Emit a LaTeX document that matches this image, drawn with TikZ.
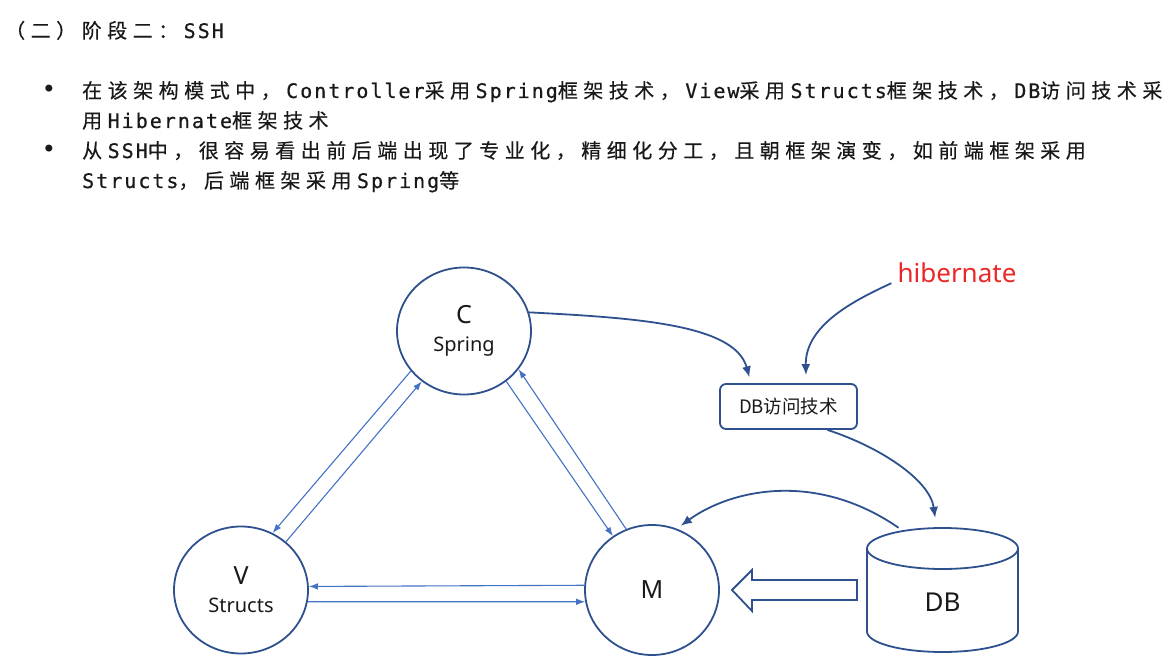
\documentclass[tikz,border=0pt]{standalone}
\usepackage{fontspec}
\usetikzlibrary{shapes.geometric,arrows.meta,calc}
\newfontfamily\cjkfont[FakeBold=0.3]{Noto Sans CJK SC}
\newfontfamily\monofont[LetterSpace=10,FakeBold=0.6]{DejaVu Sans Mono}
\newfontfamily\dgmfont{Noto Sans}
\newfontfamily\dgmcjk{Noto Sans CJK SC}
\newfontfamily\bulletfont{DejaVu Sans}
\newlength\zhgap
\setlength\zhgap{5.5pt}
\def\zhloop#1{\ifx\relax#1\else#1\hspace{\zhgap}\expandafter\zhloop\fi}
\newcommand\zhtxt[1]{{\cjkfont\zhloop#1\relax}}
\newcommand\entxt[1]{{\monofont #1}}
\definecolor{dnavy}{RGB}{47,80,143}
\definecolor{lblue}{RGB}{68,114,196}
\definecolor{hred}{RGB}{235,40,40}
\definecolor{txt}{RGB}{25,25,25}
\begin{document}
\begin{tikzpicture}[x=1pt,y=-1pt,
  bubble/.style={ellipse, draw=dnavy, line width=1.8pt, minimum width=134pt, minimum height=127pt, inner sep=0pt, align=center, font=\dgmfont\fontsize{20}{28}\selectfont, text=txt},
  thinarr/.style={draw=lblue, line width=1.1pt, -{Latex[length=9pt,width=6.5pt]}},
  curvarr/.style={draw=dnavy, line width=1.8pt, -{Latex[length=11pt,width=9pt]}},
  linetxt/.style={anchor=base west, inner sep=0pt, font=\fontsize{20}{30}\selectfont, text=txt},
  bul/.style={anchor=base, inner sep=0pt, font=\bulletfont\fontsize{24}{28}\selectfont, text=txt},
  shapeline/.style={draw=dnavy, line width=1.8pt, fill=white}
]
\useasboundingbox[fill=white] (0,0) rectangle (1173,668);

% ---- text ----
\node[linetxt] (head) at (5,38) {\zhtxt{（二）阶段二：}\entxt{SSH}};
\node[bul] (b1) at (49,98) {•};
\node[linetxt] (l1) at (82,98) {\zhtxt{在该架构模式中，}\entxt{Controller}\zhtxt{采用}\entxt{Spring}\zhtxt{框架技术，}\entxt{View}\zhtxt{采用}\entxt{Structs}\zhtxt{框架技术，}\entxt{DB}\zhtxt{访问技术采}};
\node[linetxt] (l2) at (82,128) {\zhtxt{用}\entxt{Hibernate}\zhtxt{框架技术}};
\node[bul] (b2) at (49,158) {•};
\node[linetxt] (l3) at (82,158) {\zhtxt{从}\entxt{SSH}\zhtxt{中，很容易看出前后端出现了专业化，精细化分工，且朝框架演变，如前端框架采用}};
\node[linetxt] (l4) at (82,188) {\entxt{Structs}\zhtxt{，后端框架采用}\entxt{Spring}\zhtxt{等}};

% ---- nodes ----
\node[bubble] (C) at (464,331) {{\fontsize{25}{28}\selectfont C}\\Spring};
\node[bubble] (V) at (241,590) {{\fontsize{25}{28}\selectfont V}\\Structs};
\node[bubble, minimum height=130pt] (M) at (652,590) {\fontsize{25}{28}\selectfont M};
\node[draw=dnavy, line width=1.8pt, rounded corners=6pt, minimum width=137pt, minimum height=45pt, inner sep=0pt, text=txt, font=\dgmcjk\fontsize{18.5}{20}\selectfont] (box) at (788.5,406.5) {DB访问技术};
\node[text=hred, font=\dgmfont\fontsize{26}{30}\selectfont, inner sep=0pt] (hib) at (957,273) {hibernate};
\node[minimum width=151pt, minimum height=124pt, inner sep=0pt] (db) at (942.5,590) {};

% cylinder
\draw[shapeline] (867,548.5) -- (867,631.5) arc[start angle=180, end angle=0, x radius=75.5, y radius=20.5] -- (1018,548.5);
\draw[shapeline] (942.5,548.5) ellipse [x radius=75.5, y radius=20.5];
\node[font=\dgmfont\fontsize{26}{30}\selectfont, text=txt] (dbtxt) at (942.5,602) {DB};

% ---- triangle arrows ----
\draw[thinarr] (C.217.9) -- (V.61.9);
\draw[thinarr] (V.47.4) -- (C.230.5);
\draw[thinarr] (C.310.1) -- (M.126.5);
\draw[thinarr] (M.113.9) -- (C.325.1);
\draw[thinarr] (M.176.6) -- (V.3.4);
\draw[thinarr] (V.350) -- (M.190.2);

% ---- curved arrows ----
\draw[curvarr, shorten >=6pt] (C.16.6) .. controls (640,318) and (735,325) .. (box.148.6);
\draw[curvarr, shorten >=8pt] ([xshift=-6pt]hib.south west) .. controls (855,300) and (805,325) .. (box.53.7);
\draw[curvarr, shorten >=10pt] (box.-31.9) .. controls (880,447) and (930,480) .. ($(db.north west)!0.46!(db.north east)$);
\draw[curvarr, shorten >=5pt] ($(db.north west)!0.21!(db.north east)$) .. controls (815,470) and (730,490) .. (M.68.8);

% ---- block arrow ----
\draw[shapeline, line join=miter] (857,580) -- (752,580) -- (752,570) -- (732,590) -- (752,611) -- (752,600) -- (857,600) -- cycle;
\end{tikzpicture}
\end{document}
